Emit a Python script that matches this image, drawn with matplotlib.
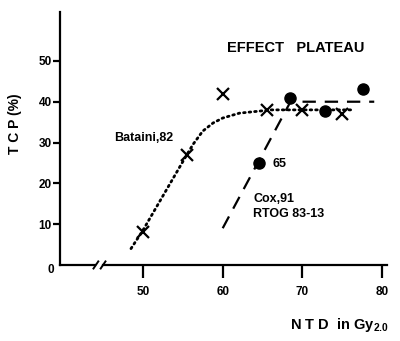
import numpy as np
import matplotlib
matplotlib.use("Agg")
import matplotlib.pyplot as plt
import matplotlib.transforms as mtrans

plt.rcParams['font.family'] = ['Liberation Sans', 'DejaVu Sans']
plt.rcParams['mathtext.fontset'] = 'custom'
plt.rcParams['mathtext.rm'] = 'Liberation Sans:bold'
plt.rcParams['mathtext.bf'] = 'Liberation Sans:bold'

# Bataini,82 data (crosses) and its dotted fit
bataini_x = [50, 55.5, 60, 65.5, 70, 75]
bataini_y = [8, 27, 42, 38, 38, 37]
bataini_fit_x = [48.5, 50, 55.5, 56.3, 57.5, 58.8, 60, 62.1, 64.6, 66, 70, 76.3]
bataini_fit_y = [4, 8.5, 27, 29.6, 32.8, 34.8, 36.0, 37.2, 37.7, 38, 38, 38]

# Cox,91 RTOG 83-13 data (dots) and its dashed fit
cox_x = [64.6, 68.4, 72.8, 77.6]
cox_y = [25, 41, 37.8, 43]
cox_fit_x = [60, 68.5, 79]
cox_fit_y = [9, 40, 40]

xticks = [50, 60, 70, 80]
yticks = [10, 20, 30, 40, 50]

fig = plt.figure(figsize=(4.0, 3.41), dpi=100)
ax = fig.add_axes([0.15, 0.223, 0.8175, 0.742])

ax.plot(bataini_fit_x, bataini_fit_y, color='black', lw=2.0, ls=(0, (0.6, 1.4)),
        dash_capstyle='round')
ax.plot(cox_fit_x, cox_fit_y, color='black', lw=1.6, ls=(0, (6, 4)))
ax.plot(bataini_x, bataini_y, 'x', color='black', ms=9, mew=1.6)
ax.plot(cox_x, cox_y, 'o', color='black', ms=8)

ax.set_xlim(39.6, 80.6)
ax.set_ylim(0, 62)

for s in ['top', 'right']:
    ax.spines[s].set_visible(False)
ax.spines['left'].set_linewidth(1.6)
ax.spines['bottom'].set_visible(False)

# x axis with a break
tr = mtrans.blended_transform_factory(ax.transData, ax.transAxes)
ax.plot([39.6, 44.0], [0, 0], color='black', lw=1.6, transform=tr, clip_on=False)
ax.plot([45.0, 80.6], [0, 0], color='black', lw=1.6, transform=tr, clip_on=False)
for xb in [43.8, 44.7]:
    ax.plot([xb, xb + 0.6], [-0.014, 0.014], color='black', lw=1.4,
            transform=tr, clip_on=False)

ax.set_xticks(xticks)
ax.set_yticks(yticks)
ax.tick_params(axis='x', direction='out', length=9, width=1.6, pad=6, labelsize=8.5)
ax.tick_params(axis='y', direction='out', length=5, width=1.6, pad=1, labelsize=8.5)
for lab in ax.get_xticklabels() + ax.get_yticklabels():
    lab.set_fontweight('bold')
ax.text(38.4, -1.3, '0', fontsize=8.5, fontweight='bold', ha='center', va='center',
        clip_on=False)

ax.text(69.2, 53.2, 'EFFECT   PLATEAU', fontsize=10.5, fontweight='bold',
        ha='center', va='center')
ax.text(46.4, 31.1, 'Bataini,82', fontsize=9, fontweight='bold', ha='left', va='center')
ax.text(66.3, 24.8, '65', fontsize=9, fontweight='bold', ha='left', va='center')
ax.text(63.8, 16.2, 'Cox,91', fontsize=9, fontweight='bold', ha='left', va='center')
ax.text(63.8, 12.5, 'RTOG 83-13', fontsize=9, fontweight='bold', ha='left', va='center')

fig.text(0.725, 0.047, r'N T D  in Gy$_{2.0}$', fontsize=10.5, fontweight='bold',
         ha='left', va='center')
fig.text(0.037, 0.636, 'T C P (%)', fontsize=10, fontweight='bold', rotation=90,
         ha='center', va='center')

fig.savefig('out.png', dpi=100)
